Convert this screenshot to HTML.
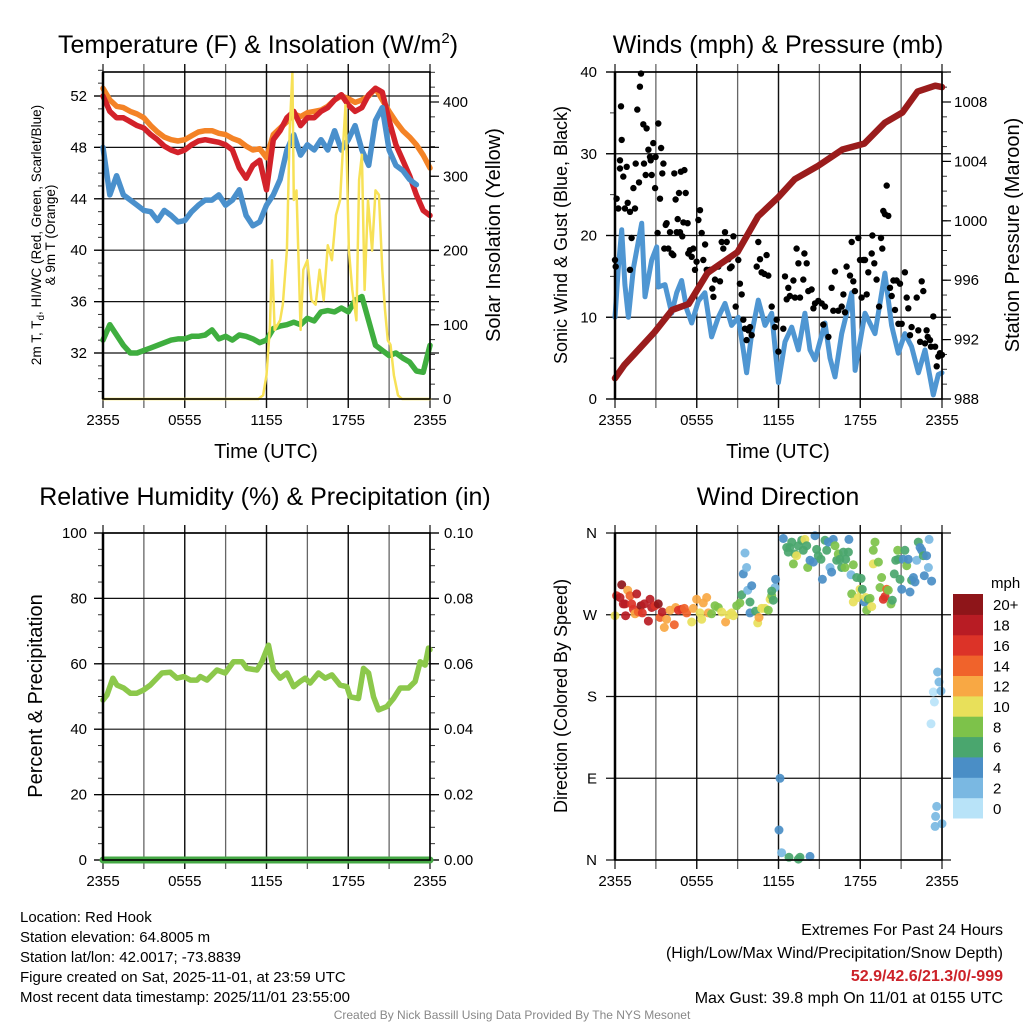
<!DOCTYPE html>
<html><head><meta charset="utf-8">
<style>
html,body{margin:0;padding:0;background:#fff;}
svg{display:block;font-family:"Liberation Sans",Arial,sans-serif;}
</style></head>
<body>
<svg id="chart" width="1024" height="1024" viewBox="0 0 1024 1024" xmlns="http://www.w3.org/2000/svg">
<rect x="0" y="0" width="1024" height="1024" fill="#fff"/>
<g id="p1"></g>
<g id="p2"></g>
<g id="p3"></g>
<g id="p4"></g>
<g font-size="25" fill="#000" text-anchor="middle">
<text x="258" y="53">Temperature (F) &amp; Insolation (W/m<tspan dy="-10" font-size="15">2</tspan><tspan dy="10">)</tspan></text>
<text x="778" y="53">Winds (mph) &amp; Pressure (mb)</text>
<text x="265" y="505">Relative Humidity (%) &amp; Precipitation (in)</text>
<text x="778" y="505">Wind Direction</text>
</g>
<g font-size="20" fill="#000" text-anchor="middle">
<text x="266" y="458">Time (UTC)</text>
<text x="778" y="458">Time (UTC)</text>
<text transform="translate(41,235) rotate(-90)" font-size="13.5">2m T, T<tspan dy="3" font-size="10">d</tspan><tspan dy="-3">, HI/WC (Red, Green, Scarlet/Blue)</tspan></text>
<text transform="translate(55,235) rotate(-90)" font-size="13.5">&amp; 9m T (Orange)</text>
<text transform="translate(500,235) rotate(-90)">Solar Insolation (Yellow)</text>
<text transform="translate(567,235) rotate(-90)" font-size="18">Sonic Wind &amp; Gust (Blue, Black)</text>
<text transform="translate(1019,235) rotate(-90)">Station Pressure (Maroon)</text>
<text transform="translate(42,696) rotate(-90)">Percent &amp; Precipitation</text>
<text transform="translate(567,696) rotate(-90)" font-size="18">Direction (Colored By Speed)</text>
</g>
<g font-size="15" fill="#000">
<text x="20" y="922">Location: Red Hook</text>
<text x="20" y="942">Station elevation: 64.8005 m</text>
<text x="20" y="962">Station lat/lon: 42.0017; -73.8839</text>
<text x="20" y="982">Figure created on Sat, 2025-11-01, at 23:59 UTC</text>
<text x="20" y="1002">Most recent data timestamp: 2025/11/01 23:55:00</text>
</g>
<g font-size="16" fill="#000" text-anchor="end">
<text x="1003" y="935">Extremes For Past 24 Hours</text>
<text x="1003" y="958">(High/Low/Max Wind/Precipitation/Snow Depth)</text>
<text x="1003" y="981" fill="#cc2229" font-weight="bold">52.9/42.6/21.3/0/-999</text>
<text x="1003" y="1003">Max Gust: 39.8 mph On 11/01 at 0155 UTC</text>
</g>
<text x="512" y="1019" font-size="12" fill="#888" text-anchor="middle">Created By Nick Bassill Using Data Provided By The NYS Mesonet</text>
</svg>
<script>
// ---------- DATA ----------
var halfHours = [0,0.5,1,1.5,2,2.5,3,3.5,4,4.5,5,5.5,6,6.5,7,7.5,8,8.5,9,9.5,10,10.5,11,11.5,12,12.5,13,13.5,14,14.5,15,15.5,16,16.5,17,17.5,18,18.5,19,19.5,20,20.5,21,21.5,22,22.5,23,23.5,24];
var temp9m = [52.6,51.7,51.2,51.1,50.8,50.6,50.3,49.7,49.2,48.8,48.6,48.5,48.6,48.9,49.2,49.3,49.3,49.1,49.0,48.7,48.5,48.1,47.8,47.9,47.2,49.0,49.5,50.0,50.6,50.4,50.7,50.8,50.9,51.2,51.7,52.0,51.8,51.5,51.7,52.0,52.6,51.7,50.8,50.0,49.3,48.8,48.2,47.4,46.4];
var temp2m = [52.0,50.8,50.3,50.3,50.0,49.7,49.5,49.0,48.6,48.1,47.8,47.6,47.8,48.2,48.5,48.6,48.5,48.4,48.2,47.8,46.4,45.6,46.6,47.0,44.7,48.6,49.3,50.3,50.8,49.7,50.3,50.3,50.8,51.1,51.7,52.1,51.3,50.8,51.1,52.1,52.6,52.3,50.1,48.2,47.0,45.8,44.3,43.1,42.7];
var windChill = [48.0,44.3,45.8,44.3,43.9,43.5,43.1,43.0,42.3,43.1,42.7,42.2,42.3,43.0,43.5,43.9,43.9,44.3,43.5,43.9,44.7,42.7,41.9,42.2,43.5,44.3,45.5,47.8,49.0,47.4,48.2,47.8,48.6,47.8,49.3,47.8,48.6,49.7,47.8,46.6,50.1,51.1,47.8,46.6,46.2,45.5,45.1,null,null];
var dewPoint = [33.0,34.2,33.4,32.6,32.0,32.0,32.2,32.4,32.6,32.8,33.0,33.1,33.1,33.3,33.3,33.4,33.8,33.1,33.3,33.0,33.4,33.3,33.1,32.8,33.0,33.9,34.1,34.2,34.4,34.2,34.7,34.5,35.2,35.3,35.2,35.5,35.2,36.1,36.4,34.5,32.6,32.2,31.8,32.0,31.6,31.3,30.6,30.5,32.6];
var solarHours = [0,11.4,11.75,12.0,12.25,12.4,12.6,13.0,13.2,13.5,13.7,13.9,14.0,14.2,14.5,14.7,15.0,15.3,15.6,15.9,16.2,16.5,16.8,17.1,17.4,17.6,17.8,18.05,18.3,18.6,18.8,19.0,19.2,19.45,19.75,20.0,20.25,20.5,20.7,20.9,21.1,21.35,21.65,21.95,24];
var solarValues = [0,0,5,32,97,187,93,106,127,200,362,440,268,281,93,174,187,133,127,174,133,207,187,248,268,335,396,200,147,106,295,329,147,268,200,281,275,174,120,79,73,32,5,0,0];

var windHours = [0,0.24,0.49,0.73,0.98,1.35,1.96,2.2,2.69,3.06,3.18,3.67,4.16,4.53,4.89,5.26,5.63,6.12,6.6,7.09,7.58,8.07,8.56,9.05,9.42,9.66,10.03,10.52,11.01,11.5,11.99,12.48,12.97,13.46,13.94,14.31,14.68,15.41,15.78,16.15,16.64,17.37,17.62,18.35,19.08,19.81,20.3,20.79,21.28,21.77,22.27,22.75,23.36,23.73,24];
var windSpeed = [10,16,20.7,14,10,16,21.5,12.5,17,18.6,13.7,14,10.5,13,14.5,11,9.3,12,13,7.6,10,11.7,9,10,6,3.2,8,12.1,9,10.5,2,7,8.8,6,10.5,6,4.8,9.3,5,2.7,8,13,3.5,10.5,8,15.4,9,5.6,8,6.4,3.2,6,0.5,3,3.2];
var gustHours = [0,0.05,0.12,0.24,0.37,0.37,0.44,0.49,0.61,0.73,0.86,0.93,1.10,1.10,1.22,1.35,1.47,1.52,1.64,1.76,1.83,1.91,2.08,2.13,2.32,2.25,2.45,2.57,2.62,2.69,2.81,2.94,2.98,3.13,3.18,3.30,3.38,3.47,3.55,3.62,3.72,3.79,3.91,4.04,4.16,4.28,4.35,4.45,4.53,4.60,4.70,4.77,4.84,4.94,5.02,5.09,5.19,5.33,5.38,5.50,5.63,5.75,5.87,5.99,6.12,6.24,6.36,6.48,6.61,6.73,6.85,6.97,7.14,7.22,7.34,7.58,7.71,7.83,7.95,8.07,8.20,8.32,8.44,8.56,8.69,8.86,9.05,9.17,9.30,9.42,9.54,9.66,9.79,9.91,10.03,10.40,10.52,10.64,10.76,10.96,11.13,11.25,11.50,11.74,11.87,11.99,12.35,12.48,12.60,12.72,12.84,13.09,13.21,13.33,13.46,13.58,13.82,13.90,14.07,14.19,14.43,14.56,14.68,14.92,15.17,15.29,15.41,15.66,15.90,16.02,16.15,16.39,16.64,16.76,16.88,17.00,17.25,17.37,17.49,17.61,17.86,17.98,18.10,18.23,18.35,18.47,18.59,18.84,18.89,19.03,19.20,19.38,19.52,19.62,19.69,19.82,19.94,20.06,20.18,20.31,20.43,20.55,20.67,20.80,20.92,21.04,21.28,21.41,21.53,21.65,21.77,22.14,22.26,22.39,22.51,22.63,22.75,22.87,22.95,23.12,23.19,23.36,23.49,23.61,23.73,23.85,24];
var gustSpeed = [17.0,16.2,24.5,23.3,29.2,28.2,35.8,31.7,27.2,23.3,28.4,24.0,22.9,15.8,19.7,25.8,23.3,28.8,35.4,26.5,38.2,39.8,33.6,28.8,33.1,27.4,30.5,29.6,29.2,27.4,31.3,25.8,29.6,20.3,33.7,24.5,30.7,27.6,28.8,18.4,21.3,21.5,18.4,20.4,17.8,17.6,27.6,24.4,20.4,22.0,25.2,20.4,27.8,19.9,21.6,28.0,25.2,21.5,17.8,18.2,17.4,18.4,15.8,16.8,21.9,23.1,20.3,17.0,18.9,15.8,15.5,15.8,13.5,12.5,14.6,16.2,14.4,19.2,18.4,20.4,19.2,17.1,16.0,16.2,19.9,11.3,17.0,14.1,12.8,9.7,8.6,7.2,8.4,8.8,7.8,16.2,19.2,17.1,15.5,15.3,17.6,15.1,11.3,8.8,9.7,5.8,8.6,15.0,12.2,13.6,12.6,14.5,12.4,18.4,16.6,12.4,14.6,17.8,16.6,13.2,13.4,11.1,11.7,12.0,11.7,9.1,11.3,7.6,13.6,10.8,15.6,10.8,11.3,12.8,10.6,16.2,15.1,19.2,14.4,13.2,19.7,17.0,12.4,17.0,17.0,12.8,15.5,17.8,20.0,16.6,14.6,11.3,19.7,18.4,23.0,22.6,26.1,22.4,13.6,12.6,14.5,10.9,14.5,9.2,14.1,9.2,15.5,12.4,11.1,7.8,8.8,12.4,8.4,7.0,14.4,13.2,6.8,8.4,7.6,7.2,6.4,10.1,6.4,4.0,5.2,5.6,5.4];
var pressureHours = [0,0.7,2.9,4.2,5.4,6.8,9.0,10.5,12.0,13.2,14.9,16.7,18.3,19.8,21.1,22.2,23.5,24];
var pressureValues = [989.4,990.3,992.5,994.0,994.4,996.5,997.9,1000.3,1001.6,1002.8,1003.7,1004.8,1005.2,1006.6,1007.3,1008.7,1009.1,1009.0];

var rhHours = [0,0.29,0.73,1.03,1.52,2.0,2.49,2.98,3.47,4.33,4.94,5.43,5.92,6.41,6.9,7.14,7.63,8.36,8.97,9.58,10.2,10.56,11.3,11.66,12.15,12.52,13.0,13.5,13.99,14.47,14.84,15.2,15.82,16.31,16.8,17.4,17.9,18.14,18.75,19.12,19.49,19.85,20.22,20.83,21.32,21.81,22.42,22.91,23.28,23.64,23.89,24];
var rhValues = [48.9,50.5,55.6,53.5,52.6,51.0,51.0,52.0,53.5,57.2,57.4,55.6,56.1,55.0,55.0,56.1,55.0,58.1,57.2,60.6,60.6,58.6,58.1,60.6,65.7,58.1,55.6,57.2,53.0,54.6,55.6,54.1,57.2,55.6,56.6,53.5,53.0,49.9,49.4,58.6,57.2,49.9,45.9,46.9,49.4,52.6,52.6,54.6,60.6,59.6,64.8,64.3];
var precipHours = [0,24];
var precipValues = [0,0];

var dirHours = [0,0.12,0.37,0.49,0.61,0.73,0.78,0.93,1.10,1.22,1.35,1.47,1.59,1.71,1.91,2.0,2.15,2.45,2.57,2.69,2.94,3.18,3.30,3.47,3.62,3.79,4.04,4.35,4.45,4.65,4.89,5.09,5.26,5.63,5.75,5.99,6.24,6.36,6.48,6.73,6.85,7.09,7.34,7.58,7.83,8.12,8.37,8.56,8.69,8.93,9.17,9.30,9.42,9.54,9.66,9.74,9.91,9.91,10.03,10.32,10.47,10.57,10.76,11.01,11.25,11.38,11.50,11.62,11.74,11.79,11.50,12.35,12.60,12.72,12.84,12.97,13.09,13.21,13.33,13.46,13.70,13.82,13.94,14.07,14.14,14.31,14.56,14.68,14.80,14.92,15.12,15.22,15.41,15.54,15.66,15.78,15.90,16.02,16.15,16.27,16.39,16.51,16.64,16.76,16.88,16.93,17.13,17.17,17.32,17.49,17.37,17.49,17.74,17.86,17.98,18.06,18.15,18.30,18.40,18.47,18.59,18.72,18.84,18.96,19.08,18.96,19.33,19.45,19.57,19.69,19.82,19.94,20.06,20.26,20.35,20.50,20.60,20.75,20.80,20.92,21.04,21.16,21.28,21.41,21.53,21.65,21.77,21.90,22.02,22.14,22.26,22.39,22.51,22.63,22.70,22.87,23.0,23.05,23.24,23.36,23.44,23.19,23.68,23.78,23.93,23.61,23.53,23.49,24.0,12.11,12.04,12.23,12.77,13.46,13.58,14.31];
var dirDegrees = [269,291,289,303,282,282,269,297,291,282,276,271,293,273,280,272,282,263,287,278,280,282,267,273,256,265,275,259,278,275,276,277,272,262,277,287,272,265,283,289,272,271,280,278,273,262,270,272,269,280,283,292,315,338,322,297,272,284,302,274,261,267,277,277,275,287,291,286,300,309,296,354,344,339,344,350,326,337,335,346,352,341,353,346,322,330,328,357,342,335,331,309,352,341,350,322,317,353,346,330,337,331,322,339,322,331,339,353,314,325,293,284,311,289,298,310,298,284,289,275,287,288,279,326,350,341,328,300,311,287,290,298,297,282,286,315,330,341,331,309,298,331,341,324,331,295,308,311,306,330,350,344,341,335,313,335,322,353,307,185,174,150,207,196,186,59,48,37,40,90,33,8,3,1,3,4];
var dirSpeeds = [10,16,18,20,18,18,18,12,14,16,16,12,18,14,20,16,18,18,18,18,16,20,14,18,12,12,12,14,12,16,16,14,14,10,12,12,10,10,12,12,12,8,8,8,10,12,10,10,10,8,8,6,4,2,2,2,4,6,4,6,10,12,10,10,8,10,8,6,2,4,6,4,6,6,6,6,8,6,10,6,6,6,10,6,8,4,4,4,6,6,6,4,6,6,4,2,4,4,8,6,8,6,6,6,8,6,6,4,2,8,8,10,6,10,10,6,6,4,10,8,6,8,10,10,8,8,8,8,8,16,16,14,8,8,6,6,6,8,6,6,4,4,6,8,4,4,6,4,4,2,6,4,4,6,4,4,2,2,4,0,0,0,2,2,2,2,2,2,2,4,4,2,6,6,6,4];

var xTickLabels = ["2355","0555","1155","1755","2355"];
var tempTicks = [32,36,40,44,48,52];
var solarTicks = [0,100,200,300,400];
var windTicks = [0,10,20,30,40];
var pressureTicks = [988,992,996,1000,1004,1008];
var rhTicks = [0,20,40,60,80,100];
var precipTicks = ["0.00","0.02","0.04","0.06","0.08","0.10"];
var dirTickLabels = ["N","E","S","W","N"];
var speedBinLabels = ["0","2","4","6","8","10","12","14","16","18","20+"];
var speedColors = ["#b8e3f8","#7ab8e2","#4a8ec6","#4aa66e","#7dc24a","#e8e05a","#f8a844","#f0632b","#dc3328","#b81c24","#8e1519"];

// ---------- helpers ----------
var NS = "http://www.w3.org/2000/svg";
function mk(parent, tag, attrs){ var e=document.createElementNS(NS,tag); for(var k in attrs){e.setAttribute(k,attrs[k]);} parent.appendChild(e); return e; }
function lin(d0,d1,r0,r1){ return function(v){ return r0+(v-d0)/(d1-d0)*(r1-r0); }; }
function pathFrom(xs,ys,xf,yf){ var d="",pen=false; for(var i=0;i<xs.length;i++){ if(ys[i]===null||ys[i]===undefined){pen=false;continue;} d+=(pen?"L":"M")+xf(xs[i]).toFixed(1)+" "+yf(ys[i]).toFixed(1); pen=true;} return d; }

function frame(g, L, R, T, B, hLines, xFn){
  var grid = mk(g,"g",{});
  
  
  for(var h=3; h<24; h+=3){
    var x=xFn(h);
    var v = mk(grid,"line",{x1:x,x2:x,y1:T-8,y2:B+9,stroke:(h%6===0?"#111":"#666"),"stroke-width":1.3});
    
    
  }
  hLines.forEach(function(y){
    var l = mk(grid,"line",{x1:L-9,x2:R+9,y1:y,y2:y,stroke:"#111","stroke-width":1.2});
    
    
  });
  var xl = mk(g,"g",{"font-size":15,"text-anchor":"middle"});
  
  
  xTickLabels.forEach(function(t,i){
    var x=xFn(i*6);
    mk(g,"line",{x1:x,x2:x,y1:T-8,y2:B+9,stroke:"#111","stroke-width":1.2});
    var tx=mk(xl,"text",{x:x,y:B+26});
    tx.textContent=t;
    
    
  });
}
function border(g,L,R,T,B){
  var r = mk(g,"rect",{x:L,y:T,width:R-L,height:B-T,fill:"none",stroke:"#000","stroke-width":1.6});
  
  
  mk(g,"line",{x1:L,x2:L,y1:T,y2:B,stroke:"#000","stroke-width":2.5});
}
function yLabels(g, vals, texts, yFn, x, anchor, minorStep, side){
  var gg = mk(g,"g",{"font-size":15,"text-anchor":anchor});
  
  
  vals.forEach(function(v,i){
    var t=mk(gg,"text",{x:x,y:yFn(v)+5});
    t.textContent=texts[i];
    
    
  });
}
function minorTicks(g, from, to, step, yFn, x0, x1){
  for(var v=from; v<=to+1e-9; v+=step){ var y=yFn(v); mk(g,"line",{x1:x0,x2:x1,y1:y,y2:y,stroke:"#333","stroke-width":1}); }
}
function line(g, xs, ys, xf, yf, color, w, name){
  var p=mk(g,"path",{d:pathFrom(xs,ys,xf,yf),fill:"none",stroke:color,"stroke-width":w,"stroke-linejoin":"round","stroke-linecap":"round"});
  
  
  return p;
}

// ---------- Panel 1 ----------
(function(){
  var g=document.getElementById("p1");
  var L=103,R=430,T=72,B=399;
  var x=lin(0,24,L,R), yT=lin(52,32,96,353), yS=lin(0,400,399,102);
  frame(g,L,R,T,B,tempTicks.map(yT),x);
  minorTicks(g,29,54,1,yT,L-5,L);
  minorTicks(g,0,440,20,yS,R,R+5);
  tempTicks.forEach(function(v){var y=yT(v); mk(g,"line",{x1:L-9,x2:L,y1:y,y2:y,stroke:"#000","stroke-width":1.2});});
  solarTicks.forEach(function(v){var y=yS(v); mk(g,"line",{x1:R,x2:R+9,y1:y,y2:y,stroke:"#000","stroke-width":1.2});});
  yLabels(g,tempTicks,tempTicks.map(String),yT,L-16,"end",1,"left");
  yLabels(g,solarTicks,solarTicks.map(String),yS,R+13,"start",1,"right");
  line(g,halfHours,dewPoint,x,yT,"#3fae3f",5.5,"dewpoint-line");
  line(g,halfHours,temp9m,x,yT,"#f48326",5.5,"temp-9m-line");
  line(g,halfHours,temp2m,x,yT,"#d3222a",5.5,"temp-2m-line");
  line(g,halfHours,windChill,x,yT,"#4a90cc",5.5,"windchill-line");
  line(g,solarHours,solarValues,x,yS,"#f7e157",2.5,"solar-line");
  border(g,L,R,T,B);
})();

// ---------- Panel 2 ----------
(function(){
  var g=document.getElementById("p2");
  var L=615,R=942,T=72,B=399;
  var x=lin(0,24,L,R), yW=lin(0,40,399,72), yP=lin(988,1008,399,102);
  frame(g,L,R,T,B,windTicks.map(yW),x);
  minorTicks(g,0,40,5,yW,L-5,L);
  minorTicks(g,988,1010,1,yP,R,R+5);
  windTicks.forEach(function(v){var y=yW(v); mk(g,"line",{x1:L-9,x2:L,y1:y,y2:y,stroke:"#000","stroke-width":1.2});});
  pressureTicks.forEach(function(v){var y=yP(v); mk(g,"line",{x1:R,x2:R+9,y1:y,y2:y,stroke:"#000","stroke-width":1.2});});
  yLabels(g,windTicks,windTicks.map(String),yW,L-18,"end",1,"left");
  yLabels(g,pressureTicks,pressureTicks.map(String),yP,R+12,"start",1,"right");
  line(g,windHours,windSpeed,x,yW,"#4f96d2",5,"wind-speed-line");
  var dots=mk(g,"g",{fill:"#000"});
  
  
  for(var i=0;i<gustHours.length;i++){
    var c=mk(dots,"circle",{cx:x(gustHours[i]).toFixed(1),cy:yW(gustSpeed[i]).toFixed(1),r:3.2});
    
    
  }
  line(g,pressureHours,pressureValues,x,yP,"#9a1c1c",6.5,"pressure-line");
  border(g,L,R,T,B);
})();

// ---------- Panel 3 ----------
(function(){
  var g=document.getElementById("p3");
  var L=103,R=430,T=533,B=860;
  var x=lin(0,24,L,R), yR=lin(0,100,860,533), yPr=lin(0,0.10,860,533);
  frame(g,L,R,T,B,rhTicks.map(yR),x);
  minorTicks(g,0,100,5,yR,L-5,L);
  minorTicks(g,0,100,5,yR,R,R+5);
  rhTicks.forEach(function(v){var y=yR(v); mk(g,"line",{x1:L-9,x2:L,y1:y,y2:y,stroke:"#000","stroke-width":1.2}); mk(g,"line",{x1:R,x2:R+9,y1:y,y2:y,stroke:"#000","stroke-width":1.2});});
  yLabels(g,rhTicks,rhTicks.map(String),yR,L-16,"end",1,"left");
  var pv=precipTicks.map(Number);
  yLabels(g,pv,precipTicks,yPr,R+14,"start",1,"right");
  line(g,rhHours,rhValues,x,yR,"#8cc84b",5.5,"humidity-line");
  line(g,precipHours,precipValues,x,yPr,"#45a845",7,"precipitation-line");
  border(g,L,R,T,B);
})();

// ---------- Panel 4 ----------
(function(){
  var g=document.getElementById("p4");
  var L=615,R=942,T=533,B=860;
  var x=lin(0,24,L,R), yD=lin(0,360,860,533);
  var degTicks=[0,90,180,270,360];
  frame(g,L,R,T,B,degTicks.map(yD),x);
  yLabels(g,degTicks,dirTickLabels,yD,L-18,"end",1,"left");
  var dots=mk(g,"g",{"fill-opacity":0.92});
  
  
  for(var i=0;i<dirHours.length;i++){
    var b=Math.min(10,Math.floor(dirSpeeds[i]/2));
    var c=mk(dots,"circle",{cx:x(dirHours[i]).toFixed(1),cy:yD(dirDegrees[i]).toFixed(1),r:4.5,fill:speedColors[b]});
    
    
  }
  border(g,L,R,T,B);
  var cb=mk(g,"g",{});
  
  
  var top=594, bh=(818-594)/speedColors.length;
  for(var k=0;k<speedColors.length;k++){
    var yy=top+(speedColors.length-1-k)*bh;
    var r=mk(cb,"rect",{x:953,y:yy.toFixed(1),width:30,height:(bh+0.5).toFixed(1),fill:speedColors[k]});
    
    
    var t=mk(cb,"text",{x:993,y:(yy+bh/2+6).toFixed(1),"font-size":15});
    t.textContent=speedBinLabels[k];
    
    
  }
  var m=mk(cb,"text",{x:991,y:588,"font-size":15});
  m.textContent="mph";
  
  
})();
</script>
</body></html>
